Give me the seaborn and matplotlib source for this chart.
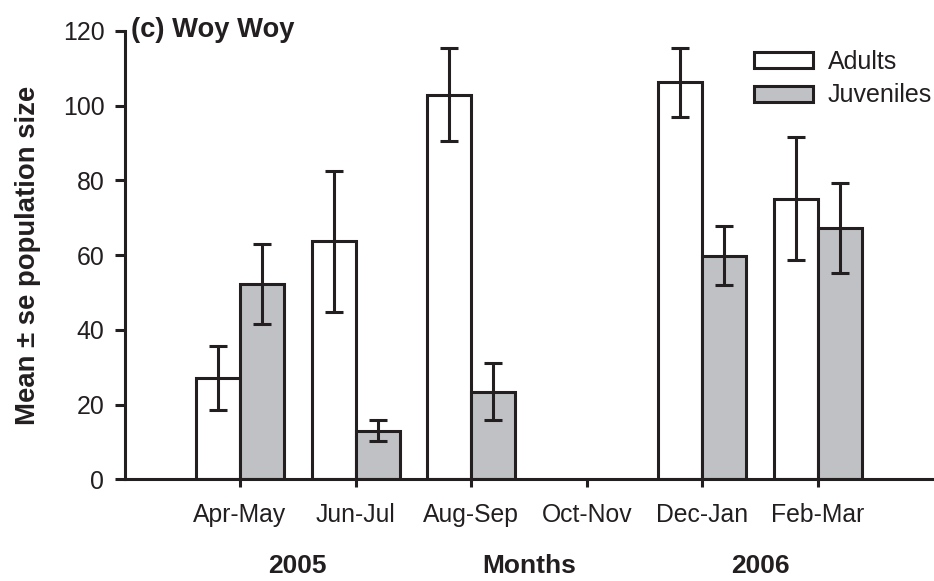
import matplotlib
matplotlib.use("Agg")
import matplotlib.pyplot as plt
import matplotlib.transforms as mtransforms
import numpy as np
import pandas as pd
import seaborn as sns

# Bi-monthly sampling periods (Oct-Nov has no survey data)
periods = ["Apr-May", "Jun-Jul", "Aug-Sep", "Oct-Nov", "Dec-Jan", "Feb-Mar"]
adult_mean = [27.1, 63.7, 103.0, np.nan, 106.3, 75.1]
adult_se = [8.5, 18.9, 12.4, np.nan, 9.2, 16.5]
juv_mean = [52.3, 13.1, 23.5, np.nan, 59.9, 67.3]
juv_se = [10.8, 2.8, 7.7, np.nan, 7.9, 12.0]
groups = ["Adults", "Juveniles"]
year_labels = ["2005", "2006"]
year_centres = [0.5, 4.5]

ink = "#231f20"
fills = {"Adults": "#ffffff", "Juveniles": "#c0c1c4"}

rows = []
for g, means, ses in [("Adults", adult_mean, adult_se), ("Juveniles", juv_mean, juv_se)]:
    for p, m, s in zip(periods, means, ses):
        if not np.isnan(m):
            rows.append({"period": p, "group": g, "mean": m, "se": s})
df = pd.DataFrame(rows)

sns.set_style("ticks")
plt.rcParams["font.family"] = ["Liberation Sans", "DejaVu Sans"]
plt.rcParams["text.color"] = ink
plt.rcParams["axes.labelcolor"] = ink
plt.rcParams["xtick.color"] = ink
plt.rcParams["ytick.color"] = ink
plt.rcParams["axes.edgecolor"] = ink

fig = plt.figure(figsize=(9.34, 5.81), dpi=100)
ax = fig.add_axes([0.1333, 0.1747, 0.866, 0.7720])

sns.barplot(
    data=df, x="period", y="mean", hue="group",
    order=periods, hue_order=groups, palette=fills, saturation=1,
    width=0.76, edgecolor=ink, linewidth=2.2, errorbar=None, ax=ax,
)

# error bars (± se) placed on the centre of each drawn bar
for g, container in zip(groups, ax.containers):
    sub = df[df["group"] == g].set_index("period")
    for bar in container:
        xc = bar.get_x() + bar.get_width() / 2
        period = periods[int(round(xc))]
        if period not in sub.index:
            continue
        ax.errorbar(xc, sub.loc[period, "mean"], yerr=sub.loc[period, "se"],
                    fmt="none", ecolor=ink, elinewidth=2.2, capsize=6.5,
                    capthick=2.2, zorder=5)

ax.set_xlim(-1, 6)
ax.set_ylim(0, 120)
ax.set_yticks(range(0, 121, 20))
sns.despine(ax=ax)
for side in ["left", "bottom"]:
    ax.spines[side].set_linewidth(2.2)

ax.tick_params(axis="y", length=7.5, width=2.2, labelsize=17.9, pad=7)
ax.tick_params(axis="x", length=6, width=2.2, labelsize=17.8, pad=11)

ax.set_ylabel("Mean ± se population size", fontsize=19.8, fontweight="bold")
ax.yaxis.set_label_coords(-0.103, 0.5)
ax.set_xlabel("Months", fontsize=19, fontweight="bold")
ax.xaxis.label.set_verticalalignment("baseline")
ax.xaxis.set_label_coords(0.5, -0.209)

trans = mtransforms.blended_transform_factory(ax.transData, ax.transAxes)
for lab, xc in zip(year_labels, year_centres):
    ax.text(xc, -0.209, lab, transform=trans, ha="center", va="baseline",
            fontsize=19, fontweight="bold")

ttrans = mtransforms.blended_transform_factory(ax.transAxes, ax.transData)
ax.text(0.0077, 118.5, "(c) Woy Woy", transform=ttrans, ha="left",
        va="baseline", fontsize=19.7, fontweight="bold", clip_on=False)

leg = ax.legend(loc="upper left", bbox_to_anchor=(754 / 934, 1 - 50 / 581),
                bbox_transform=fig.transFigure, frameon=False, borderpad=0,
                borderaxespad=0, handlelength=2.36, handleheight=0.6,
                handletextpad=0.6, labelspacing=0.38, fontsize=18.0, title=None)

fig.savefig("out.png", dpi=100)
